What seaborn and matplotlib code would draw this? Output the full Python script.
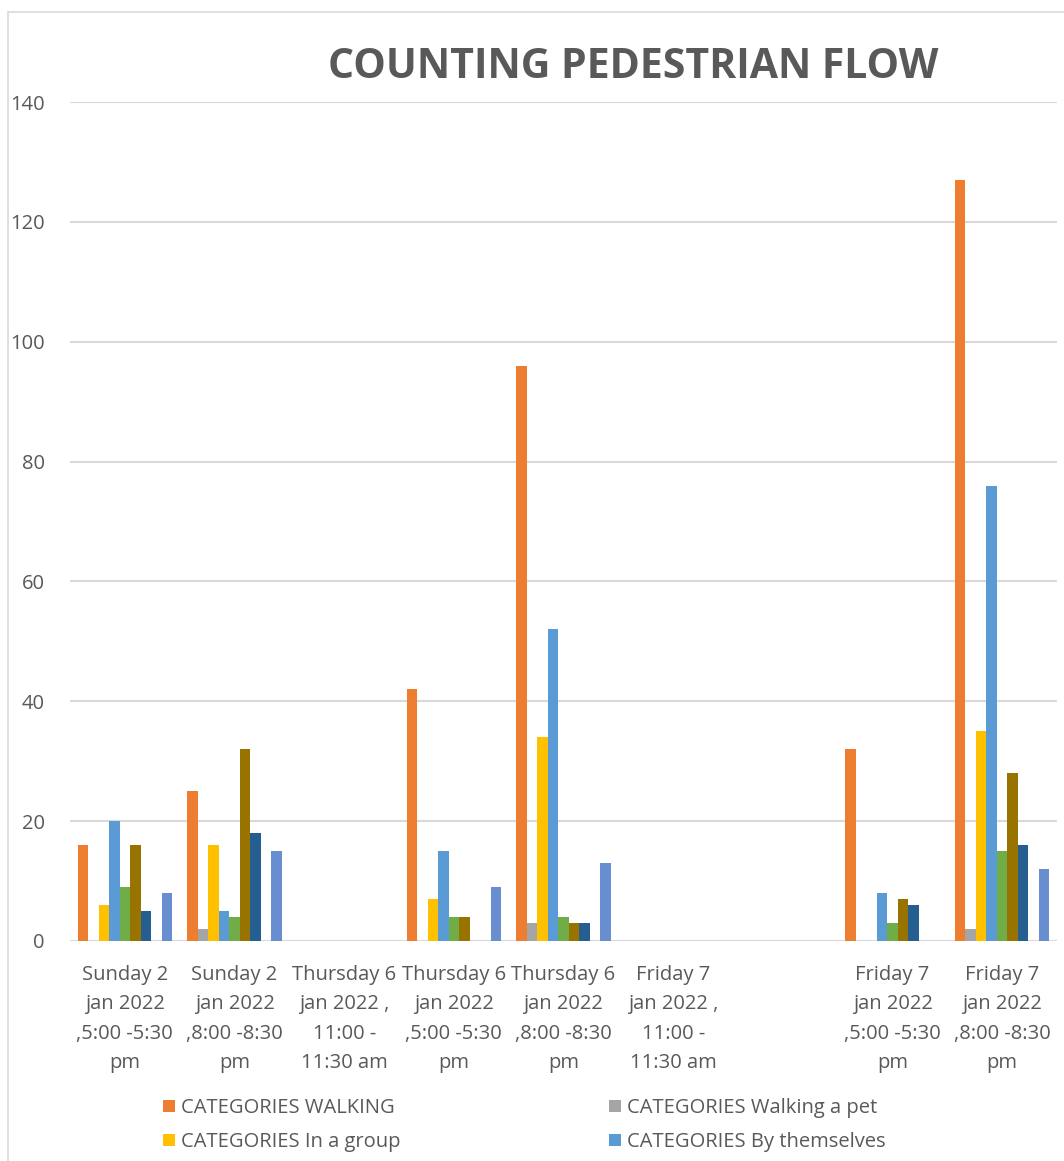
import pandas as pd
import seaborn as sns
from matplotlib import pyplot as plt
from matplotlib.patches import Rectangle

# categorias do eixo x (a setima nao tem rotulo no original)
categories = ["Sunday 2\njan 2022\n,5:00 -5:30\npm",
              "Sunday 2\njan 2022\n,8:00 -8:30\npm",
              "Thursday 6\njan 2022 ,\n11:00 -\n11:30 am",
              "Thursday 6\njan 2022\n,5:00 -5:30\npm",
              "Thursday 6\njan 2022\n,8:00 -8:30\npm",
              "Friday 7\njan 2022 ,\n11:00 -\n11:30 am",
              "",
              "Friday 7\njan 2022\n,5:00 -5:30\npm",
              "Friday 7\njan 2022\n,8:00 -8:30\npm"]

series_names = ["CATEGORIES WALKING", "CATEGORIES Walking a pet",
                "CATEGORIES In a group", "CATEGORIES By themselves",
                "series 5", "series 6", "series 7", "series 8", "series 9"]

walking = [16, 25, 0, 42, 96, 0, 0, 32, 127]
walking_pet = [0, 2, 0, 0, 3, 0, 0, 0, 2]
in_group = [6, 16, 0, 7, 34, 0, 0, 0, 35]
by_themselves = [20, 5, 0, 15, 52, 0, 0, 8, 76]
series_5 = [9, 4, 0, 4, 4, 0, 0, 3, 15]
series_6 = [16, 32, 0, 4, 3, 0, 0, 7, 28]
series_7 = [5, 18, 0, 0, 3, 0, 0, 6, 16]
series_8 = [0, 0, 0, 0, 0, 0, 0, 0, 0]
series_9 = [8, 15, 0, 9, 13, 0, 0, 0, 12]

colors = ["#ED7D31", "#A5A5A5", "#FFC000", "#5B9BD5", "#70AD47",
          "#997300", "#255E91", "#43682B", "#698ED0"]

all_values = [walking, walking_pet, in_group, by_themselves, series_5,
              series_6, series_7, series_8, series_9]

# monta tabela longa para o seaborn
keys = [f"c{i}" for i in range(len(categories))]
rows = []
for name, vals in zip(series_names, all_values):
    for k, v in zip(keys, vals):
        rows.append({"cat": k, "series": name, "value": v})
df = pd.DataFrame(rows)

sns.set_style("white")
plt.rcParams["font.family"] = ["Open Sans", "DejaVu Sans"]
text_color = "#595959"

fig = plt.figure(figsize=(10.64, 11.61), dpi=100)
ax = fig.add_axes([70 / 1064, 1 - 941 / 1161, 987 / 1064, 839 / 1161])

sns.barplot(data=df, x="cat", y="value", hue="series", order=keys,
            hue_order=series_names, palette=colors, width=0.86,
            linewidth=0, saturation=1, ax=ax, legend=True)

ax.set_ylim(0, 140)
ax.set_yticks(range(0, 141, 20))
ax.yaxis.grid(True, color="#D9D9D9", linewidth=1.5)
ax.set_axisbelow(True)
for s in ax.spines.values():
    s.set_visible(False)
ax.set_xlabel("")
ax.set_ylabel("")
ax.set_xticks(range(len(categories)))
ax.set_xticklabels(categories, linespacing=1.64)
ax.tick_params(axis="x", length=0, pad=17, labelsize=14.5, labelcolor=text_color)
ax.tick_params(axis="y", length=0, pad=18, labelsize=14.5, labelcolor=text_color)

# legenda com so as quatro primeiras series
handles, labels = ax.get_legend_handles_labels()
ax.get_legend().remove()
order = [0, 2, 1, 3]
fig.legend([handles[i] for i in order], [labels[i] for i in order],
           loc="upper left", bbox_to_anchor=(155 / 1064, 1 - 1090 / 1161),
           ncol=2, frameon=False, fontsize=14.5, labelcolor=text_color,
           handlelength=0.6, handleheight=0.6, handletextpad=0.3,
           columnspacing=10.35, labelspacing=0.7, borderaxespad=0)

fig.text(633 / 1064, 1 - 68 / 1161, "COUNTING PEDESTRIAN FLOW", ha="center",
         va="center", fontsize=29.5, fontweight="bold", color=text_color)

# moldura do grafico
fig.patches.append(Rectangle((8 / 1064, -0.01), 1.05, 1 - 12 / 1161 + 0.01,
                             transform=fig.transFigure, fill=False,
                             edgecolor="#D9D9D9", linewidth=1.2))

fig.savefig("out.png", dpi=100, facecolor="white")
